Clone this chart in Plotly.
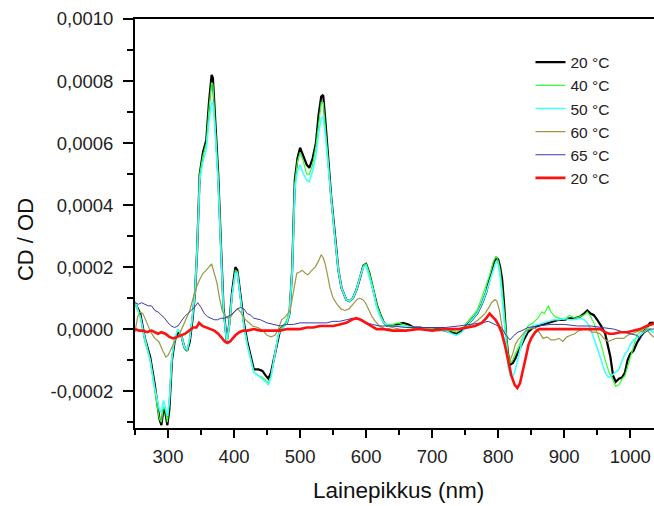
import numpy as np
import plotly.graph_objects as go

SCALE = 1e-4  # values below are in units of 1e-4 (CD/OD)

# ---- 20 °C (black) ----
wl_20a = [250, 258, 265, 273, 280, 287, 290, 293, 296, 299, 302, 306, 310, 315, 320, 325, 329, 333, 337, 341,
          344, 348, 353, 358, 362, 366, 368, 371, 376, 380, 384, 389, 393, 397, 402, 405, 410, 415, 420, 425,
          430, 437, 443, 448, 452, 456, 462, 467, 470, 475, 480, 484, 488, 492, 496, 500, 505, 510, 514, 519,
          524, 528, 532, 535, 538, 542, 547, 553, 558, 563, 570, 575, 580, 586, 591, 596, 600, 605, 611, 616,
          621, 627, 632, 640, 648, 656, 664, 672, 682, 692, 700, 710, 720, 730, 737, 745, 752, 760, 768, 775,
          782, 788, 793, 797, 800, 803, 806, 809, 812, 815, 818, 822, 826, 830, 835, 840, 845, 853, 860, 868,
          876, 884, 892, 900, 908, 916, 924, 930, 935, 940, 945, 950, 956, 962, 966, 970, 974, 978, 983, 988,
          992, 996, 1000, 1005, 1010, 1015, 1020, 1025, 1030, 1035, 1040]
cd_20a = [0.85, 0.5, -0.3, -0.9, -1.8, -2.9, -3.1, -2.6, -2.7, -3.1, -2.6, -1.0, -0.4, -0.1, -0.2, -0.6, -0.7, -0.4, 0.3, 1.2,
          2.5, 5.0, 5.7, 6.1, 7.3, 8.2, 8.1, 7.0, 5.0, 2.8, 0.7, -0.4, 0.2, 1.2, 2.0, 1.9, 1.0, 0.2, -0.4, -0.9,
          -1.3, -1.3, -1.35, -1.5, -1.6, -1.4, -0.8, -0.2, 0.0, 0.1, 0.2, 0.5, 1.9, 4.8, 5.5, 5.85, 5.6, 5.3, 5.2, 5.5,
          6.0, 6.9, 7.5, 7.55, 6.8, 5.7, 4.3, 3.0, 1.9, 1.3, 0.95, 0.9, 1.0, 1.3, 1.7, 2.05, 2.1, 1.8, 1.25, 0.8,
          0.5, 0.2, 0.1, 0.1, 0.15, 0.2, 0.15, 0.05, 0.05, 0.0, 0.0, 0.0, -0.05, -0.1, -0.15, -0.05, 0.1, 0.3, 0.5, 0.8,
          1.2, 1.7, 2.1, 2.3, 2.25, 2.0, 1.6, 0.8, -0.2, -0.8, -1.15, -1.1, -0.95, -0.75, -0.5, -0.3, -0.1, 0.05, 0.1, 0.15,
          0.2, 0.25, 0.3, 0.3, 0.35, 0.35, 0.4, 0.5, 0.6, 0.5, 0.45, 0.3, 0.1, -0.15, -0.5, -0.9, -1.5, -1.7, -1.6, -1.55,
          -1.4, -1.0, -0.8, -0.7, -0.45, -0.25, -0.1, 0.05, 0.2, 0.2, 0.15]

# ---- 40 °C (green) ----
wl_40 = [250, 258, 265, 273, 280, 287, 290, 293, 296, 299, 302, 306, 310, 315, 320, 325, 329, 333, 337, 341,
         344, 348, 353, 358, 362, 366, 368, 371, 376, 380, 384, 389, 393, 397, 402, 405, 410, 415, 420, 425,
         430, 437, 443, 448, 452, 456, 462, 467, 470, 475, 480, 484, 488, 492, 496, 500, 505, 510, 514, 519,
         524, 528, 532, 535, 538, 542, 547, 553, 558, 563, 570, 575, 580, 586, 591, 596, 600, 605, 611, 616,
         621, 627, 632, 640, 648, 656, 664, 672, 682, 692, 700, 710, 720, 730, 737, 745, 752, 760, 768, 775,
         782, 788, 793, 797, 800, 803, 806, 809, 812, 815, 818, 822, 826, 830, 835, 840, 845, 853, 860, 866,
         870, 876, 880, 886, 892, 900, 908, 916, 924, 930, 935, 940, 945, 950, 956, 962, 968, 973, 978, 983,
         988, 992, 996, 1000, 1005, 1010, 1015, 1020, 1025, 1030, 1035, 1040]
cd_40 = [0.8, 0.4, -0.4, -1.0, -2.0, -2.9, -3.0, -2.5, -2.6, -3.0, -2.4, -0.9, -0.3, 0.0, -0.2, -0.6, -0.7, -0.3, 0.4, 1.3,
         2.6, 5.0, 5.6, 6.0, 7.1, 7.95, 7.9, 6.9, 4.9, 2.7, 0.6, -0.45, 0.1, 1.1, 1.9, 1.85, 0.9, 0.1, -0.5, -1.0,
         -1.4, -1.5, -1.55, -1.65, -1.75, -1.5, -0.8, -0.2, 0.0, 0.1, 0.3, 0.6, 2.0, 4.7, 5.4, 5.7, 5.4, 5.0, 5.0, 5.3,
         5.9, 6.7, 7.3, 7.3, 6.6, 5.6, 4.2, 2.9, 1.9, 1.3, 0.95, 0.9, 1.0, 1.3, 1.7, 2.05, 2.1, 1.8, 1.3, 0.8,
         0.5, 0.2, 0.15, 0.15, 0.2, 0.15, 0.1, 0.05, 0.05, 0.0, 0.0, 0.0, -0.05, -0.05, -0.1, 0.0, 0.2, 0.4, 0.6, 1.0,
         1.4, 1.8, 2.2, 2.35, 2.2, 1.9, 1.3, 0.6, -0.3, -0.8, -1.1, -1.0, -0.8, -0.6, -0.35, -0.1, 0.1, 0.2, 0.35, 0.55,
         0.5, 0.75, 0.55, 0.4, 0.35, 0.3, 0.45, 0.35, 0.4, 0.45, 0.55, 0.4, 0.2, -0.1, -0.5, -1.0, -1.4, -1.6, -1.85, -1.8,
         -1.6, -1.5, -1.2, -0.9, -0.5, -0.2, -0.1, 0.0, 0.05, 0.0, -0.1, -0.15]

# ---- 50 °C (cyan) ----
wl_50 = [250, 258, 265, 273, 280, 287, 290, 293, 296, 299, 302, 306, 310, 315, 320, 325, 329, 333, 337, 341,
         344, 348, 353, 358, 362, 366, 368, 371, 376, 380, 384, 389, 393, 397, 402, 405, 410, 415, 420, 425,
         430, 437, 443, 448, 452, 456, 462, 467, 470, 475, 480, 484, 488, 492, 496, 500, 505, 510, 514, 519,
         524, 528, 532, 535, 538, 542, 547, 553, 558, 563, 570, 575, 580, 586, 591, 596, 600, 605, 611, 616,
         621, 627, 632, 640, 648, 656, 664, 672, 682, 692, 700, 710, 720, 730, 737, 745, 752, 760, 768, 775,
         782, 788, 793, 797, 800, 803, 806, 809, 812, 815, 818, 822, 826, 830, 835, 840, 845, 853, 860, 868,
         876, 884, 892, 900, 908, 916, 924, 930, 935, 940, 945, 950, 956, 962, 967, 972, 978, 983, 988, 992,
         996, 1000, 1005, 1010, 1015, 1020, 1025, 1030, 1035, 1040]
cd_50 = [0.9, 0.4, -0.3, -1.0, -1.9, -2.6, -2.7, -2.3, -2.5, -2.8, -2.3, -0.9, -0.3, 0.0, -0.2, -0.6, -0.65, -0.3, 0.4, 1.2,
         2.5, 4.8, 5.4, 5.8, 6.7, 7.3, 7.3, 6.5, 4.7, 2.6, 0.6, -0.4, 0.2, 1.1, 1.8, 1.8, 0.9, 0.1, -0.5, -1.0,
         -1.4, -1.5, -1.6, -1.7, -1.8, -1.55, -0.8, -0.2, -0.05, 0.05, 0.2, 0.5, 1.8, 4.5, 5.1, 5.3, 5.0, 4.8, 4.75, 5.1,
         5.6, 6.3, 6.8, 6.85, 6.3, 5.4, 4.1, 2.9, 1.9, 1.3, 0.95, 0.9, 1.0, 1.3, 1.7, 2.0, 2.05, 1.7, 1.2, 0.7,
         0.4, 0.2, 0.1, 0.1, 0.1, 0.1, 0.05, 0.05, 0.0, 0.0, 0.0, -0.05, -0.05, -0.15, -0.2, -0.1, 0.1, 0.3, 0.5, 0.8,
         1.2, 1.6, 2.0, 2.2, 2.1, 1.7, 1.0, 0.2, -0.6, -1.2, -1.5, -1.55, -1.3, -0.9, -0.5, -0.2, 0.0, 0.1, 0.15, 0.2,
         0.25, 0.3, 0.3, 0.35, 0.3, 0.3, 0.35, 0.3, 0.2, 0.0, -0.3, -0.6, -1.0, -1.4, -1.55, -1.5, -1.4, -1.3, -1.0, -0.8,
         -0.7, -0.5, -0.35, -0.3, -0.2, -0.1, 0.0, -0.05, -0.1, -0.1]

# ---- 60 °C (olive) ----
wl_60 = [250, 254, 258, 262, 268, 274, 280, 286, 292, 297, 300, 305, 310, 318, 325, 333, 338, 343, 348, 353,
         358, 363, 366, 370, 374, 378, 382, 386, 390, 395, 400, 405, 410, 415, 420, 428, 436, 444, 450, 456,
         462, 467, 472, 478, 485, 490, 495, 500, 503, 508, 512, 518, 523, 528, 532, 535, 538, 542, 545, 550,
         556, 562, 568, 574, 580, 586, 590, 595, 599, 604, 609, 614, 620, 630, 640, 650, 660, 670, 680, 690,
         700, 710, 720, 730, 740, 750, 760, 770, 780, 786, 790, 795, 798, 802, 806, 810, 814, 818, 822, 826,
         830, 836, 842, 848, 855, 862, 868, 874, 880, 886, 892, 898, 904, 910, 916, 922, 930, 936, 942, 948,
         954, 960, 966, 972, 978, 984, 990, 996, 1002, 1008, 1015, 1020, 1025, 1030, 1035, 1040]
cd_60 = [-0.1, 0.4, 0.55, 0.5, 0.2, -0.1, -0.3, -0.4, -0.7, -0.9, -0.85, -0.6, -0.4, -0.13, 0.2, 0.6, 1.0, 1.35, 1.6, 1.8,
         1.9, 2.05, 2.1, 1.8, 1.5, 1.0, 0.6, 0.45, 0.35, 0.4, 0.55, 0.65, 0.55, 0.35, 0.25, 0.1, 0.05, -0.05, -0.2, -0.25,
         -0.2, 0.0, 0.3, 0.4, 0.6, 1.2, 1.8, 1.85, 1.9, 1.8, 1.75, 1.9, 2.0, 2.2, 2.4, 2.3, 2.1, 1.7, 1.35, 1.0,
         0.8, 0.65, 0.6, 0.65, 0.8, 0.95, 1.0, 0.95, 0.85, 0.6, 0.4, 0.25, 0.1, 0.0, 0.05, 0.0, -0.05, 0.0, 0.05, 0.0,
         0.0, -0.05, 0.0, 0.0, 0.0, 0.05, 0.15, 0.3, 0.5, 0.7, 0.85, 0.95, 0.9, 0.6, 0.0, -0.5, -0.9, -1.0, -0.8, -0.5,
         -0.35, -0.2, -0.05, 0.0, 0.05, -0.1, -0.3, -0.25, -0.35, -0.35, -0.3, -0.4, -0.25, -0.2, -0.15, -0.05, 0.0, 0.0, -0.1, -0.1,
         -0.15, -0.3, -0.4, -0.35, -0.3, -0.3, -0.3, -0.2, -0.15, -0.1, -0.05, -0.1, 0.0, -0.15, -0.25, -0.2]

# ---- 65 °C (navy) ----
wl_65 = [250, 255, 260, 265, 270, 275, 280, 285, 290, 295, 300, 305, 310, 315, 320, 325, 330, 335, 340, 345,
         350, 355, 360, 365, 370, 375, 380, 385, 390, 395, 400, 405, 410, 415, 420, 425, 430, 440, 450, 460,
         470, 480, 490, 500, 510, 520, 530, 540, 550, 560, 570, 580, 590, 600, 610, 620, 640, 660, 680, 700,
         720, 740, 760, 775, 785, 795, 805, 812, 818, 824, 830, 836, 845, 860, 880, 900, 920, 940, 960, 975,
         990, 1000, 1010, 1015, 1020, 1030, 1040]
cd_65 = [0.85, 0.8, 0.85, 0.8, 0.75, 0.75, 0.6, 0.55, 0.45, 0.35, 0.2, 0.1, 0.05, 0.1, 0.25, 0.4, 0.5, 0.6, 0.7, 0.85,
         0.7, 0.5, 0.4, 0.35, 0.3, 0.3, 0.35, 0.35, 0.4, 0.45, 0.55, 0.65, 0.7, 0.65, 0.5, 0.45, 0.35, 0.3, 0.2, 0.15,
         0.1, 0.15, 0.15, 0.2, 0.2, 0.2, 0.2, 0.2, 0.25, 0.25, 0.3, 0.35, 0.3, 0.2, 0.15, 0.1, 0.1, 0.05, 0.05, 0.05,
         0.05, 0.1, 0.15, 0.2, 0.25, 0.15, 0.05, -0.2, -0.35, -0.2, -0.1, -0.05, 0.05, 0.1, 0.15, 0.15, 0.1, 0.1, 0.05, 0.0,
         -0.1, -0.15, -0.2, -0.3, -0.15, 0.0, 0.0]

# ---- 20 °C after heating (red) ----
wl_20b = [250, 256, 262, 268, 275, 280, 285, 290, 296, 302, 308, 314, 320, 326, 332, 338, 343, 347, 352, 358,
          364, 370, 376, 382, 386, 390, 394, 398, 402, 408, 414, 420, 430, 440, 450, 460, 470, 480, 490, 500,
          510, 520, 530, 540, 550, 560, 570, 578, 585, 592, 600, 608, 616, 625, 640, 660, 680, 700, 720, 740,
          755, 765, 775, 782, 787, 791, 796, 800, 805, 810, 815, 820, 825, 829, 833, 837, 842, 846, 850, 856,
          862, 870, 880, 900, 920, 940, 955, 962, 968, 975, 985, 995, 1005, 1015, 1025, 1035, 1040]
cd_20b = [0.0, -0.05, -0.05, -0.1, -0.05, -0.1, -0.15, -0.1, -0.15, -0.25, -0.3, -0.25, -0.2, -0.15, -0.05, 0.05, 0.05, 0.2, 0.1, 0.05,
          0.0, -0.05, -0.15, -0.3, -0.4, -0.45, -0.4, -0.3, -0.2, -0.1, -0.05, -0.05, 0.0, -0.05, -0.05, -0.05, -0.05, 0.0, 0.0, 0.0,
          0.05, 0.05, 0.1, 0.1, 0.1, 0.15, 0.2, 0.3, 0.35, 0.3, 0.2, 0.1, 0.0, 0.0, -0.05, -0.05, 0.0, -0.05, 0.0, 0.0,
          0.05, 0.1, 0.2, 0.35, 0.5, 0.4, 0.3, 0.15, -0.1, -0.5, -0.95, -1.5, -1.8, -1.9, -1.75, -1.4, -0.9, -0.5, -0.3, -0.1,
          0.0, 0.0, 0.0, 0.0, 0.0, 0.0, 0.0, -0.1, -0.15, -0.15, -0.1, -0.1, -0.05, 0.0, 0.1, 0.15, 0.2]

series_names = ["20 °C", "40 °C", "50 °C", "60 °C", "65 °C", "20 °C"]
series_x = [wl_20a, wl_40, wl_50, wl_60, wl_65, wl_20b]
series_y = [cd_20a, cd_40, cd_50, cd_60, cd_65, cd_20b]
colors = ["#000000", "#33ff33", "#44ffff", "#999944", "#3a3aa8", "#ff1010"]
widths = [2.2, 1.2, 1.6, 1.2, 1.0, 2.6]

y_tickvals = [-0.0002, 0.0, 0.0002, 0.0004, 0.0006, 0.0008, 0.0010]
y_ticktext = ["-0,0002", "0,0000", "0,0002", "0,0004", "0,0006", "0,0008", "0,0010"]
x_tickvals = [300, 400, 500, 600, 700, 800, 900, 1000]

fig = go.Figure()
for name, xs, ys, c, w in zip(series_names, series_x, series_y, colors, widths):
    fig.add_trace(go.Scatter(x=xs, y=np.array(ys) * SCALE, mode="lines", name=name,
                             line=dict(color=c, width=w)))

font_family = "Liberation Sans, Arial, sans-serif"
fig.update_layout(
    width=654, height=506,
    margin=dict(l=135, r=0, t=19, b=78),
    paper_bgcolor="white", plot_bgcolor="white",
    font=dict(family=font_family, color="#222222", size=18.5),
    showlegend=True,
    legend=dict(x=0.762, y=0.935, xanchor="left", yanchor="top",
                font=dict(size=15.5, color="#222222"), bgcolor="rgba(0,0,0,0)",
                itemwidth=30, tracegroupgap=0),
    annotations=[
        dict(text="Lainepikkus (nm)", xref="paper", yref="paper", x=0.507, y=-0.152,
             xanchor="center", yanchor="middle", showarrow=False,
             font=dict(size=22.5, color="#111111")),
        dict(text="CD / OD", xref="paper", yref="paper", x=-0.212, y=0.462,
             xanchor="center", yanchor="middle", showarrow=False, textangle=-90,
             font=dict(size=22, color="#111111")),
    ],
)
fig.update_xaxes(
    range=[250, 1036], showgrid=False, zeroline=False,
    showline=True, linecolor="black", linewidth=2, mirror=True,
    tickmode="array", tickvals=x_tickvals,
    ticks="outside", ticklen=8, tickwidth=2, tickcolor="black",
    minor=dict(tickmode="linear", tick0=250, dtick=50, ticks="outside", ticklen=5, tickwidth=2, tickcolor="black"),
    tickfont=dict(size=18.5), ticklabelstandoff=3,
)
fig.update_yaxes(
    range=[-0.000319, 0.0010], showgrid=False, zeroline=False,
    showline=True, linecolor="black", linewidth=2, mirror=False,
    tickmode="array", tickvals=y_tickvals, ticktext=y_ticktext,
    ticks="outside", ticklen=10, tickwidth=2, tickcolor="black",
    minor=dict(tickmode="linear", tick0=0.0001, dtick=0.0002, ticks="outside", ticklen=6, tickwidth=2, tickcolor="black"),
    tickfont=dict(size=18.5), ticklabelstandoff=6,
)

fig.write_html("out.html")
